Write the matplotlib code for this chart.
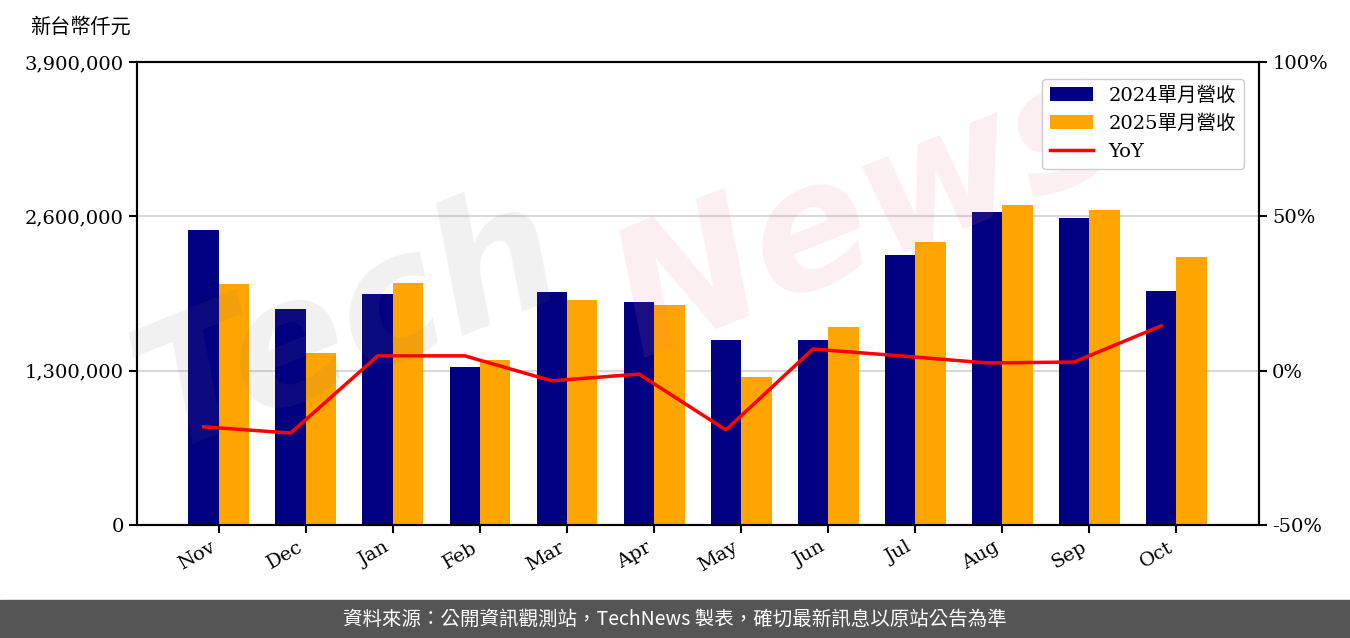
import matplotlib
matplotlib.use('Agg')
import matplotlib.pyplot as plt
from matplotlib.ticker import FuncFormatter
import numpy as np

plt.rcParams['font.family'] = ['DejaVu Serif', 'Noto Sans CJK TC']

months = ['Nov', 'Dec', 'Jan', 'Feb', 'Mar', 'Apr', 'May', 'Jun', 'Jul', 'Aug', 'Sep', 'Oct']
rev_2024 = [2485000, 1820000, 1946000, 1331000, 1963000, 1879000,
            1559000, 1559000, 2275000, 2637000, 2586000, 1971000]
rev_2025 = [2030000, 1449000, 2039000, 1390000, 1896000, 1853000,
            1247000, 1668000, 2384000, 2696000, 2654000, 2258000]
yoy = [-18.2, -20.2, 4.8, 4.8, -3.3, -1.1, -19.2, 7.0, 4.8, 2.5, 2.8, 14.5]

x = np.arange(len(months))
w = 0.35

fig = plt.figure(figsize=(13.5, 6.38), dpi=100)
ax = fig.add_axes([0.1015, 0.1771, 0.8311, 0.7257])

ax.set_facecolor('none')
ax.bar(x - w / 2, rev_2024, w, color='#000080', label='2024單月營收', zorder=2)
ax.bar(x + w / 2, rev_2025, w, color='#FFA500', label='2025單月營收', zorder=2)
ax.set_ylim(0, 3900000)
ax.set_yticks([0, 1300000, 2600000, 3900000])
ax.yaxis.set_major_formatter(FuncFormatter(lambda v, p: f'{int(v):,}'))
ax.yaxis.grid(True, color='#d8d8d8', lw=1.5, zorder=0)
ax.set_axisbelow(True)
ax.set_xticks(x)
ax.set_xticklabels(months, rotation=30, ha='right')
ax.tick_params(labelsize=14, width=1.5, length=6)
for s in ax.spines.values():
    s.set_linewidth(1.5)

ax2 = ax.twinx()
ax2.plot(x - w / 2, yoy, color='red', lw=2.5, label='YoY', zorder=3)
ax2.set_ylim(-50, 100)
ax2.set_yticks([-50, 0, 50, 100])
ax2.yaxis.set_major_formatter(FuncFormatter(lambda v, p: f'{int(v)}%'))
ax2.tick_params(labelsize=14, width=1.5, length=6)
for s in ax2.spines.values():
    s.set_linewidth(1.5)
ax.set_xlim(-0.94, 11.95)

# watermark (drawn over the bars, under the legend)
ax2.text(0.19, 0.43, 'Tech', transform=ax2.transAxes, fontsize=125,
         family='DejaVu Sans', style='italic', fontweight='bold',
         color='#777777', alpha=0.10, rotation=22, ha='center', va='center', zorder=4)
ax2.text(0.65, 0.67, 'News', transform=ax2.transAxes, fontsize=125,
         family='DejaVu Sans', style='italic', fontweight='bold',
         color='#e07a88', alpha=0.12, rotation=22, ha='center', va='center', zorder=4)

h1, l1 = ax.get_legend_handles_labels()
h2, l2 = ax2.get_legend_handles_labels()
leg = ax2.legend(h1 + h2, l1 + l2, loc='upper right', fontsize=14, framealpha=1,
                 edgecolor='#cccccc', handlelength=2.2, borderpad=0.4,
                 bbox_to_anchor=(0.995, 0.985))
leg.set_zorder(10)

fig.text(0.022, 0.957, '新台幣仟元', fontsize=14.5, family='Noto Sans CJK TC',
         ha='left', va='center')

# footer band
fig.patches.append(plt.Rectangle((0, 0), 1, 38 / 638, transform=fig.transFigure,
                                 color='#555555', zorder=0))
fig.text(0.5, 19 / 638, '資料來源：公開資訊觀測站，TechNews 製表，確切最新訊息以原站公告為準',
         fontsize=14, family='Noto Sans CJK TC', color='white',
         ha='center', va='center')

fig.savefig('out.png', dpi=100)
